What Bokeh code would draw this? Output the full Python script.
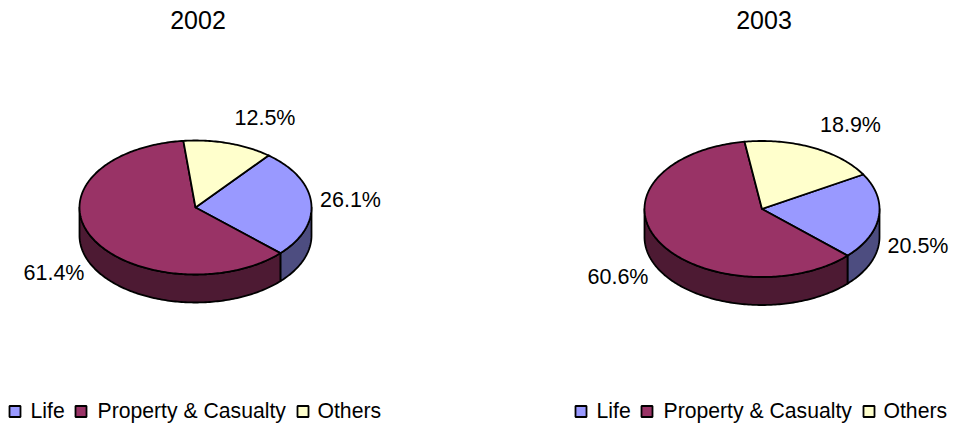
import math
from bokeh.plotting import figure
from bokeh.models import Range1d
from bokeh.core.properties import value
from bokeh.embed import file_html
from bokeh.resources import INLINE

# Data
categories = ["Life", "Property & Casualty", "Others"]
years = ["2002", "2003"]
values_2002 = [26.1, 61.4, 12.5]
values_2003 = [20.5, 60.6, 18.9]
colors = ["#9999FF", "#993366", "#FFFFCC"]
side_colors = ["#4D4D80", "#4D1A33", "#808066"]

# Layout, in page pixels
W, H = 953, 424
FONT = value("Liberation Sans")
TITLE_FS = "25px"
LABEL_FS = "21.5px"
LEGEND_FS = "21.2px"
LW = 1.8
pies = [
    dict(title=years[0], vals=values_2002, cx=195, cy=207, rx=116, ry=67, depth=28, start=39, tx=197.5,
         labels=[(350, 199.5), (53.5, 272), (264.5, 117.5)], lx=0),
    dict(title=years[1], vals=values_2003, cx=761.5, cy=208.5, rx=117.5, ry=68, depth=28, start=59.5, tx=763.5,
         labels=[(917.5, 245), (617.5, 276.5), (850, 124)], lx=566),
]
swatch_x = [9, 75, 297]
legend_tx = [30, 97, 317]
swatch_y = 411
legend_y = 409.5
swatch = 11
title_y = 19.5

p = figure(width=W, height=H, output_backend="svg", toolbar_location=None,
           x_range=Range1d(0, W), y_range=Range1d(H, 0),
           min_border=0, outline_line_color=None, background_fill_color="white")
p.axis.visible = False
p.grid.visible = False


def pt(pie, a, dy=0):
    r = math.radians(a)
    return pie["cx"] + pie["rx"] * math.sin(r), pie["cy"] - pie["ry"] * math.cos(r) + dy


def arc(pie, a0, a1, dy=0):
    n = max(2, int(abs(a1 - a0)) + 1)
    return [pt(pie, a0 + (a1 - a0) * i / (n - 1), dy) for i in range(n)]


for pie in pies:
    total = sum(pie["vals"])
    a = pie["start"]
    spans = []
    for v in pie["vals"]:
        b = a + v / total * 360
        spans.append((a, b))
        a = b
    # side walls (visible between 90 and 270 degrees, clockwise from the top)
    for (a0, a1), c in zip(spans, side_colors):
        lo, hi = max(a0, 90), min(a1, 270)
        if hi > lo:
            top = arc(pie, lo, hi)
            bot = arc(pie, hi, lo, pie["depth"])
            pts = top + bot
            p.patch([q[0] for q in pts], [q[1] for q in pts], fill_color=c,
                    line_color="black", line_width=LW, line_join="round")
    # top faces
    for (a0, a1), c in zip(spans, colors):
        pts = [(pie["cx"], pie["cy"])] + arc(pie, a0, a1)
        p.patch([q[0] for q in pts], [q[1] for q in pts], fill_color=c,
                line_color="black", line_width=LW, line_join="round")
    # title
    p.text([pie["tx"]], [title_y], text=[pie["title"]], text_font=FONT, text_font_size=TITLE_FS,
           text_color="black", text_align="center", text_baseline="middle")
    # data labels
    for v, (lx, ly) in zip(pie["vals"], pie["labels"]):
        p.text([lx], [ly], text=[f"{v:.1f}%"], text_font=FONT, text_font_size=LABEL_FS,
               text_color="black", text_align="center", text_baseline="middle")
    # legend
    for name, c, sx, tx in zip(categories, colors, swatch_x, legend_tx):
        p.quad(left=[sx + pie["lx"]], right=[sx + pie["lx"] + swatch],
               top=[swatch_y - swatch / 2], bottom=[swatch_y + swatch / 2],
               fill_color=c, line_color="black", line_width=LW)
        p.text([tx + pie["lx"]], [legend_y], text=[name], text_font=FONT, text_font_size=LEGEND_FS,
               text_color="black", text_align="left", text_baseline="middle")

open("out.html", "w").write(file_html(p, INLINE))
